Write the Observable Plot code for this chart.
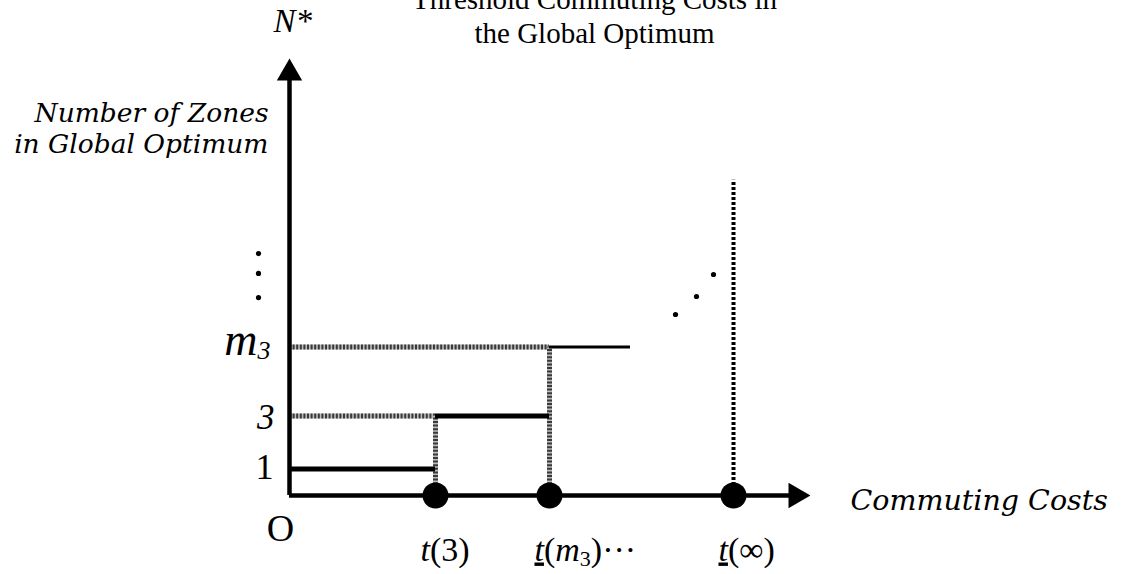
<!DOCTYPE html>
<html><head><meta charset="utf-8">
<script src="https://cdn.jsdelivr.net/npm/d3@7"></script>
<script src="https://cdn.jsdelivr.net/npm/@observablehq/plot@0.6"></script>
<style>body{margin:0;background:#fff} svg{display:block}</style>
</head><body><div id="chart"></div>
<script>
// ---- data ----
const levels = [1, 3, 5.6];                 // N* levels: 1, 3, m3
const levelLabels = ["1", "3", "m3"];
const thresholds = [2.92, 5.2, 8.88];       // t(3), t(m3), t(∞)
const thresholdLabels = ["t(3)", "t(m3)···", "t(∞)"];
const lastStepEnd = 6.82;
const infinityLineTop = 11.9;
const continuationX = [7.72, 8.14, 8.48];
const continuationY = [6.83, 7.51, 8.34];
const ellipsisLevels = [7.47, 8.38, 9.13];
const xAxisEnd = 10.42;
const yAxisEnd = 16.49;
const titleText = "Threshold Commuting Costs in\nthe Global Optimum";
const yTitle = "Number of Zones\nin Global Optimum";
const xTitle = "Commuting Costs";

// ---- derived tables ----
const steps = levels.map((y, i) => ({y, x1: i === 0 ? 0 : thresholds[i - 1], x2: i < 2 ? thresholds[i] : lastStepEnd}));
const hGuides = levels.slice(1).map((y, i) => ({y, x2: thresholds[i]}));
const vGuides = thresholds.slice(0, 2).map((x, i) => ({x, y2: levels[i + 1]}));
const contDots = continuationX.map((x, i) => ({x, y: continuationY[i]}));

const serif = "'Liberation Serif', 'Times New Roman', serif";
const wide = "'DejaVu Serif', serif";
const s = 14.7; // triangle offset (px)

const chart = Plot.plot({
  width: 1125, height: 574,
  marginLeft: 289, marginRight: 336, marginTop: 71, marginBottom: 79,
  x: {domain: [0, 10], axis: null},
  y: {domain: [0, 16], axis: null},
  style: {fontFamily: serif, background: "white", overflow: "visible"},
  marks: [
    // dotted guides (light gray base + dark dashes)
    Plot.ruleY(hGuides, {y: "y", x1: 0, x2: "x2", stroke: "#bdbdbd", strokeWidth: 5}),
    Plot.ruleY(hGuides, {y: "y", x1: 0, x2: "x2", stroke: "#3a3a3a", strokeWidth: 5, strokeDasharray: "2,1.6"}),
    Plot.ruleX(vGuides, {x: "x", y1: 0, y2: "y2", stroke: "#bdbdbd", strokeWidth: 5}),
    Plot.ruleX(vGuides, {x: "x", y1: 0, y2: "y2", stroke: "#3a3a3a", strokeWidth: 5, strokeDasharray: "2,1.6"}),
    Plot.ruleX([thresholds[2]], {x: d => d, y1: 0, y2: infinityLineTop, stroke: "#000", strokeWidth: 4, strokeDasharray: "3,2"}),
    // step function
    Plot.ruleY(steps.slice(0, 2), {y: "y", x1: "x1", x2: "x2", stroke: "#000", strokeWidth: 5}),
    Plot.ruleY(steps.slice(2), {y: "y", x1: "x1", x2: "x2", stroke: "#000", strokeWidth: 3}),
    // axes
    Plot.ruleY([0], {x1: 0, x2: xAxisEnd - 0.3, stroke: "#000", strokeWidth: 4.5}),
    Plot.ruleX([0], {y1: 0, y2: yAxisEnd - 0.6, stroke: "#000", strokeWidth: 4.5}),
    Plot.dot([xAxisEnd], {x: d => d, y: () => 0, dx: -s, symbol: "triangle2", rotate: 90, r: 12.1, fill: "#000", stroke: "none"}),
    Plot.dot([yAxisEnd], {x: () => 0, y: d => d, dy: s, symbol: "triangle2", r: 12.1, fill: "#000", stroke: "none"}),
    // threshold dots
    Plot.dot(thresholds, {x: d => d, y: () => 0, r: 13, fill: "#000", stroke: "none"}),
    // continuation dots
    Plot.dot(contDots, {x: "x", y: "y", r: 2.6, fill: "#000", stroke: "none"}),
    Plot.dot(ellipsisLevels, {x: () => 0, y: d => d, dx: -31, r: 2.6, fill: "#000", stroke: "none"}),
    // y tick labels
    Plot.text([levels[0]], {x: () => 0, y: d => d, text: [levelLabels[0]], dx: -16, dy: 9.5, textAnchor: "end", lineAnchor: "bottom", fontSize: 36, fontFamily: serif}),
    Plot.text([levels[1]], {x: () => 0, y: d => d, text: [levelLabels[1]], dx: -15, dy: 12.5, textAnchor: "end", lineAnchor: "bottom", fontSize: 35, fontStyle: "italic", fontFamily: serif}),
    Plot.text([levels[2]], {x: () => 0, y: d => d, text: [levelLabels[2]], dx: -19, dy: 7.5, textAnchor: "end", lineAnchor: "bottom", fontSize: 46, fontStyle: "italic", fontFamily: serif}),
    // origin
    Plot.text(["O"], {x: () => 0, y: () => 0, text: d => d, dx: -9, dy: 45, textAnchor: "middle", lineAnchor: "bottom", fontSize: 38, fontFamily: serif}),
    // x tick labels
    Plot.text(thresholds, {x: d => d, y: () => 0, text: thresholdLabels, dx: -15, dy: 65, textAnchor: "start", lineAnchor: "bottom", fontSize: 34, fontFamily: serif}),
    // axis titles
    Plot.text([xTitle], {x: () => xAxisEnd, y: () => 0, text: d => d, dx: 40, dy: 14, textAnchor: "start", lineAnchor: "bottom", fontSize: 28.5, fontStyle: "italic", fontFamily: wide}),
    Plot.text([yTitle], {frameAnchor: "top-left", text: d => d, dx: -21, dy: 81, textAnchor: "end", lineAnchor: "bottom", lineHeight: 31 / 26.5, fontSize: 26.5, fontStyle: "italic", fontFamily: wide}),
    Plot.text(["N*"], {frameAnchor: "top-left", text: d => d, dx: -16, dy: -40, textAnchor: "start", lineAnchor: "bottom", fontSize: 33, fontStyle: "italic", fontFamily: serif}),
    // title
    Plot.text([titleText], {frameAnchor: "top-left", text: d => d, dx: 305, dy: -29, textAnchor: "middle", lineAnchor: "bottom", lineHeight: 34 / 29, fontSize: 29, fontFamily: serif})
  ]
});

// rich text (italics, subscripts, underlines)
const rich = {
  "m3": 'm<tspan dy="4" font-size="26">3</tspan>',
  "t(3)": '<tspan font-style="italic">t</tspan>(3)',
  "t(m3)···": '<tspan font-style="italic" text-decoration="underline">t</tspan>(<tspan font-style="italic">m</tspan><tspan font-size="22" dy="5">3</tspan><tspan dy="-5">)···</tspan>',
  "t(∞)": '<tspan font-style="italic" text-decoration="underline">t</tspan>(∞)'
};
d3.select(chart).selectAll("text").each(function () {
  const t = this.textContent;
  if (rich[t]) this.innerHTML = rich[t];
});

document.getElementById("chart").appendChild(chart);
</script></body></html>
